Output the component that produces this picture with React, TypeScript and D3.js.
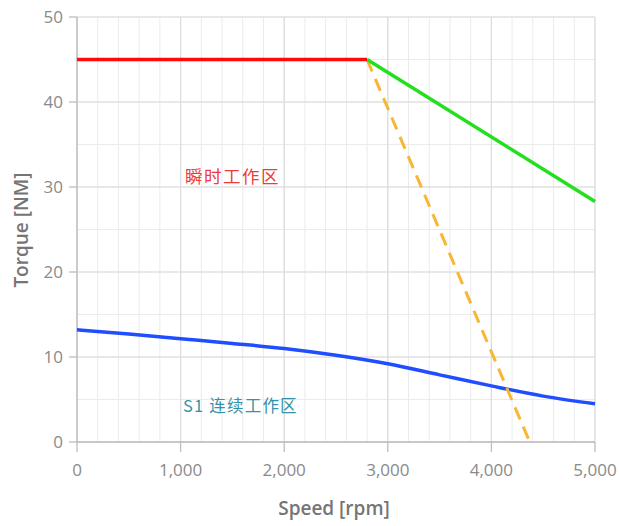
import React from "react";
import * as d3 from "d3";

const xTicks = [0, 1000, 2000, 3000, 4000, 5000];
const yTicks = [0, 10, 20, 30, 40, 50];

const peakSpeed = [0, 2800];
const peakTorque = [45, 45];

const fieldSpeed = [2800, 5000];
const fieldTorque = [45, 28.3];

const limitSpeed = [2800, 4370];
const limitTorque = [45, 0];

const contSpeed = [0, 500, 1000, 1500, 2000, 2500, 3000, 3500, 4000, 4500, 5000];
const contTorque = [13.2, 12.7, 12.15, 11.6, 11.0, 10.2, 9.2, 7.9, 6.6, 5.4, 4.5];

const labelPeak = "瞬时工作区";
const labelCont = "S1 连续工作区";
const xTitle = "Speed [rpm]";
const yTitle = "Torque [NM]";

export default function App() {
  const W = 619, H = 526;
  const x = d3.scaleLinear().domain([0, 5000]).range([77, 595]);
  const y = d3.scaleLinear().domain([0, 50]).range([442, 17]);
  const line = (xs: number[], ys: number[], curve: any = d3.curveLinear) =>
    d3.line<number>().x((_, i) => x(xs[i])).y((v) => y(v)).curve(curve)(ys) || "";
  const minorX = d3.range(0, 5001, 200);
  const minorY = d3.range(0, 51, 5);
  const fmt = d3.format(",");
  const font = "'Segoe UI', 'Open Sans', 'Noto Sans', sans-serif";
  const cjk = "'Noto Sans CJK SC', sans-serif";
  return (
    <svg width={W} height={H} style={{ position: "absolute", left: 0, top: 0, background: "#fff" }}>
      {minorX.map((v) => (
        <line key={"mx" + v} x1={x(v)} x2={x(v)} y1={y(0)} y2={y(50)} stroke="#ebebeb" strokeWidth={1} />
      ))}
      {minorY.map((v) => (
        <line key={"my" + v} x1={x(0)} x2={x(5000)} y1={y(v)} y2={y(v)} stroke="#ebebeb" strokeWidth={1} />
      ))}
      {xTicks.map((v) => (
        <line key={"gx" + v} x1={x(v)} x2={x(v)} y1={y(0)} y2={y(50)} stroke="#dcdcdc" strokeWidth={1.2} />
      ))}
      {yTicks.map((v) => (
        <line key={"gy" + v} x1={x(0)} x2={x(5000)} y1={y(v)} y2={y(v)} stroke="#dcdcdc" strokeWidth={1.2} />
      ))}
      <line x1={x(0)} x2={x(0)} y1={y(0)} y2={y(50)} stroke="#bdbdbd" strokeWidth={1.3} />
      <line x1={x(0)} x2={x(5000)} y1={y(0)} y2={y(0)} stroke="#bdbdbd" strokeWidth={1.3} />
      {yTicks.map((v) => (
        <g key={"ty" + v}>
          <line x1={x(0) - 8} x2={x(0)} y1={y(v)} y2={y(v)} stroke="#bdbdbd" strokeWidth={1.3} />
          <text x={63} y={y(v)} dy="0.35em" textAnchor="end" fontFamily={font} fontSize={17} fill="#8a8a8a">
            {fmt(v)}
          </text>
        </g>
      ))}
      {xTicks.map((v) => (
        <g key={"tx" + v}>
          <line x1={x(v)} x2={x(v)} y1={y(0)} y2={y(0) + 10} stroke="#bdbdbd" strokeWidth={1.3} />
          <text x={x(v)} y={470} dy="0.35em" textAnchor="middle" fontFamily={font} fontSize={17} fill="#8a8a8a">
            {fmt(v)}
          </text>
        </g>
      ))}
      <text x={334} y={508} dy="0.35em" textAnchor="middle" fontFamily={font} fontSize={19} fontWeight={600} fill="#757575">
        {xTitle}
      </text>
      <text transform="translate(21,230) rotate(-90)" dy="0.35em" textAnchor="middle" fontFamily={font} fontSize={19} fontWeight={600} fill="#757575">
        {yTitle}
      </text>
      <path d={line(contSpeed, contTorque, d3.curveMonotoneX)} fill="none" stroke="#1f4dff" strokeWidth={3.5} />
      <path d={line(limitSpeed, limitTorque)} fill="none" stroke="#f7b733" strokeWidth={3} strokeDasharray="13 8" />
      <path d={line(fieldSpeed, fieldTorque)} fill="none" stroke="#22e01c" strokeWidth={3.5} />
      <path d={line(peakSpeed, peakTorque)} fill="none" stroke="#ff0a0a" strokeWidth={3.5} />
      <text x={185} y={177} dy="0.35em" fontFamily={cjk} fontSize={17.5} letterSpacing={1.5} fill="#ef3a3a">
        {labelPeak}
      </text>
      <text x={183} y={406} dy="0.35em" fontFamily={cjk} fontSize={16.5} letterSpacing={1.2} fill="#3592a8">
        {labelCont}
      </text>
    </svg>
  );
}
